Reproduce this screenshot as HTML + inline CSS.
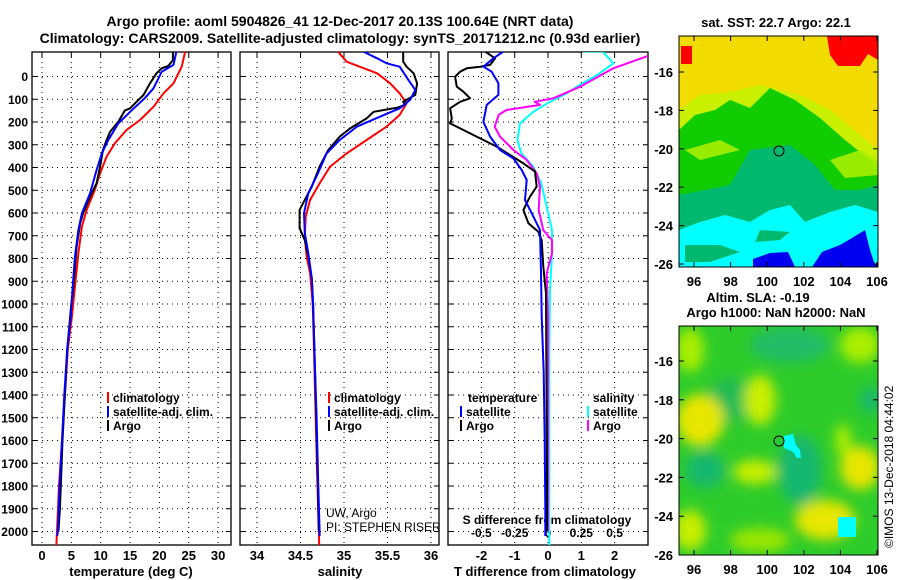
<!DOCTYPE html>
<html><head><meta charset="utf-8">
<style>
html,body{margin:0;padding:0;background:#fff;}
svg{display:block;font-family:"Liberation Sans",Arial,sans-serif;}
.b{font-weight:bold;}
</style></head>
<body>
<svg id="fig" width="900" height="580" viewBox="0 0 900 580" xmlns="http://www.w3.org/2000/svg">
<defs>
<filter id="blur1" x="-20%" y="-20%" width="140%" height="140%"><feGaussianBlur stdDeviation="6"/></filter>
<clipPath id="clipTop"><rect x="679" y="36" width="199" height="231"/></clipPath>
<clipPath id="clipBot"><rect x="679" y="326" width="199" height="229"/></clipPath>
<clipPath id="cp1"><rect x="32" y="52" width="199" height="493"/></clipPath>
<clipPath id="cp2"><rect x="240" y="52" width="199" height="493"/></clipPath>
<clipPath id="cp3"><rect x="448" y="52" width="200" height="493"/></clipPath>
</defs>
<text class="b" x="340" y="26" font-size="14" text-anchor="middle">Argo profile: aoml 5904826_41 12-Dec-2017 20.13S 100.64E (NRT data)</text>
<text class="b" x="340" y="43" font-size="14" text-anchor="middle">Climatology: CARS2009. Satellite-adjusted climatology: synTS_20171212.nc (0.93d earlier)</text>

<g clip-path="url(#clipTop)">
<rect x="679" y="36" width="199" height="231" fill="#f2dc00"/>
<polygon fill="#c8f000" points="679,110 700,95 730,92 760,85 800,95 830,110 860,135 878,150 878,200 679,200"/>
<polygon fill="#10cc00" points="679,130 695,115 715,110 730,100 750,108 770,88 795,100 820,118 845,140 860,152 878,165 878,210 679,210"/>
<polygon fill="#a8f000" points="685,150 720,140 740,150 700,160" opacity="0.9"/>
<polygon fill="#a8f000" points="830,160 860,150 878,160 878,175 845,178" opacity="0.9"/>
<polygon fill="#00b86e" points="679,195 705,190 730,185 750,150 790,145 815,165 835,190 860,190 878,185 878,235 679,235"/>
<polygon fill="#00ffff" points="679,230 700,222 725,215 750,222 770,210 790,205 805,222 830,212 855,205 878,212 878,267 679,267"/>
<polygon fill="#00b86e" points="685,245 720,245 740,252 710,262 685,262"/>
<polygon fill="#00b86e" points="760,230 790,232 780,240 755,242"/>
<polygon fill="#0000f0" points="812,267 822,252 840,245 852,238 865,230 870,250 874,262 878,267"/>
<polygon fill="#0000f0" points="753,259 770,253 788,252 795,267 753,267"/>
<polygon fill="#ff0000" points="827,36 878,36 878,60 868,54 860,66 838,66 830,55"/>
<rect x="681" y="46" width="11" height="18" fill="#ff0000"/>
</g>
<rect x="679" y="36" width="199" height="231" fill="none" stroke="#000" stroke-width="1"/>
<circle cx="779" cy="151" r="5" fill="none" stroke="#000" stroke-width="1"/>
<text class="b" x="776" y="27" font-size="13" text-anchor="middle">sat. SST: 22.7 Argo: 22.1</text>

<g clip-path="url(#clipBot)">
<rect x="679" y="326" width="199" height="229" fill="#2ecc2a"/>
<g filter="url(#blur1)">
<ellipse cx="790" cy="345" rx="40" ry="18" fill="#20bb66"/>
<ellipse cx="730" cy="400" rx="22" ry="22" fill="#22bb55"/>
<ellipse cx="700" cy="420" rx="24" ry="26" fill="#e6e600"/>
<ellipse cx="690" cy="350" rx="14" ry="22" fill="#aaee00"/>
<ellipse cx="760" cy="400" rx="16" ry="25" fill="#c8ee00"/>
<ellipse cx="800" cy="470" rx="22" ry="35" fill="#16b870"/>
<ellipse cx="705" cy="470" rx="20" ry="18" fill="#16b870"/>
<ellipse cx="755" cy="472" rx="22" ry="12" fill="#c8ee00"/>
<ellipse cx="860" cy="468" rx="20" ry="22" fill="#e6e600"/>
<ellipse cx="843" cy="440" rx="8" ry="16" fill="#aaee00"/>
<ellipse cx="825" cy="520" rx="30" ry="20" fill="#e6e600"/>
<ellipse cx="690" cy="530" rx="16" ry="20" fill="#c8ee00"/>
<ellipse cx="860" cy="345" rx="20" ry="18" fill="#aaee00"/>
<ellipse cx="870" cy="400" rx="10" ry="14" fill="#16b870"/>
<ellipse cx="760" cy="540" rx="30" ry="12" fill="#99e600"/>
</g>
<polygon fill="#00ffff" points="784,436 793,434 796,445 800,450 801,458 797,458 793,452 784,448"/>
<rect x="838" y="517" width="18" height="20" fill="#00ffff"/>
</g>
<rect x="679" y="326" width="199" height="229" fill="none" stroke="#000" stroke-width="1"/>
<circle cx="779" cy="441" r="5" fill="none" stroke="#000" stroke-width="1"/>
<text class="b" x="758" y="302" font-size="13" text-anchor="middle">Altim. SLA: -0.19</text>
<text class="b" x="776" y="317" font-size="13" text-anchor="middle">Argo h1000: NaN h2000: NaN</text>
<text x="893" y="548" font-size="12" transform="rotate(-90 893 548)">©IMOS 13-Dec-2018 04:44:02</text>

<text x="326" y="517" font-size="12">UW, Argo</text>
<text x="326" y="531" font-size="12">PI: STEPHEN RISER</text>

<g id="plots"></g>
</svg>
<script>
const depthTicks = [0,100,200,300,400,500,600,700,800,900,1000,1100,1200,1300,1400,1500,1600,1700,1800,1900,2000];
const tempTicks = [0,5,10,15,20,25,30];
const salTicks = [34,34.5,35,35.5,36];
const tdiffTicks = [-2,-1,0,1,2];
const sdiffTicks = [-0.5,-0.25,0,0.25,0.5];
const sdiffTickLabels = ["-0.5","-0.25","0","0.25","0.5"];

const tArgoDepth = [-110,-72,-46,-36,-14,30,81,111,140,150,199,243,279,323,396,469,528,601,644,748,938,1000,1200,1400,1600,1800,1900,2000];
const tArgo = [22.3,22.3,21.5,20.4,19.5,18.4,17.3,16.1,15.0,14.1,13.0,11.6,11.0,10.4,9.9,9.3,8.2,7.0,6.5,5.9,5.3,5.0,4.3,3.9,3.5,3.2,3.05,2.8];
const tSatDepth = [-110,-51,-21,52,96,155,206,279,337,411,513,601,674,792,938,1056,1200,1400,1600,1800,1900,2000,2020];
const tSat = [22.9,22.4,20.4,19.0,17.5,15.0,13.0,11.3,10.2,9.3,8.2,6.8,6.2,5.6,5.2,4.9,4.3,3.8,3.4,3.0,2.85,2.7,2.6];
const tClimDepth = [-110,-43,30,74,133,191,235,294,352,426,499,587,660,776,952,1056,1200,1400,1600,1800,2000,2060];
const tClim = [24.4,23.8,22.4,20.7,19.0,16.7,14.4,12.4,11.0,9.9,9.0,7.6,6.8,6.2,5.5,5.1,4.4,3.9,3.4,2.9,2.55,2.45];

const sArgoDepth = [-110,-65,-43,-14,30,81,111,125,137,155,184,228,264,323,396,484,557,587,667,719,792,887,1000,1200,1500,1800,2000];
const sArgo = [35.68,35.68,35.72,35.80,35.84,35.82,35.68,35.70,35.61,35.34,35.26,35.07,34.95,34.82,34.72,34.63,34.53,34.49,34.49,34.55,34.59,34.63,34.645,34.66,34.68,34.70,34.71];
const sSatDepth = [-110,-80,-58,-43,15,59,103,140,177,220,279,338,426,513,601,689,777,887,1000,1200,1500,1800,2000,2020];
const sSat = [35.22,35.38,35.49,35.64,35.74,35.82,35.76,35.64,35.41,35.15,34.95,34.80,34.70,34.59,34.54,34.55,34.59,34.63,34.645,34.66,34.685,34.705,34.72,34.72];
const sClimDepth = [-110,-65,-43,-14,30,74,118,169,220,279,338,396,470,543,616,704,792,865,1000,1200,1500,1800,2000,2060];
const sClim = [34.93,35.03,35.18,35.38,35.53,35.64,35.72,35.64,35.49,35.26,35.03,34.84,34.72,34.61,34.56,34.55,34.57,34.61,34.64,34.655,34.675,34.695,34.71,34.715];

const dTArgoDepth = [-110,-80,-51,-43,-36,-21,1,45,67,96,111,140,184,206,235,272,308,345,382,418,484,528,587,645,682,719,836,953,1200,1500,1800,2000];
const dTArgo = [-1.89,-1.59,-1.74,-2.04,-2.44,-2.64,-2.79,-2.74,-2.54,-2.34,-2.64,-2.94,-2.89,-2.94,-2.54,-2.04,-1.54,-1.14,-0.74,-0.39,-0.34,-0.54,-0.74,-0.59,-0.29,-0.19,-0.14,-0.06,-0.05,-0.04,-0.03,-0.03];
const dTSatDepth = [-110,-80,-43,-21,30,81,125,199,264,323,360,411,455,543,601,675,865,1056,1300,1600,1900,2020];
const dTSat = [-1.34,-1.64,-1.94,-1.69,-1.49,-1.49,-1.84,-1.94,-1.74,-1.44,-1.04,-0.79,-0.64,-0.69,-0.49,-0.24,-0.21,-0.19,-0.13,-0.1,-0.08,-0.08];
const dSArgoDepth = [-90,-36,45,96,111,125,147,169,220,264,323,367,426,484,587,675,719,777,865,1056,1400,1800,2000];
const dSArgo = [0.75,0.49,0.24,0.04,-0.10,-0.06,-0.31,-0.37,-0.40,-0.36,-0.26,-0.16,-0.085,-0.06,-0.07,-0.035,0.03,0.03,-0.01,0.0,0.0,0.0,0.0];
const dSSatDepth = [-110,-110,-58,-7,37,74,111,155,206,279,338,396,470,572,675,777,938,1200,1600,2060];
const dSSat = [0.26,0.41,0.49,0.37,0.24,0.14,0.015,-0.11,-0.21,-0.23,-0.20,-0.11,-0.05,-0.01,0.03,0.03,0.015,0.01,0.01,0.01];

const sstLatTicks = [-16,-18,-20,-22,-24,-26];
const lonTicks = [96,98,100,102,104,106];

const yD = d => 76.5 + d * 0.2275;
const xT = t => 42 + t * 5.87;
const xS = s => 257 + (s - 34) * 87;
const xDT = t => 548 + t * 33.3;
const xDS = s => 548 + s * 133.2;
const xLon = l => 694 + (l - 96) * 18.3;
const yLatTop = l => 72 + (-16 - l) * 19.2;
const yLatBot = l => 361 + (-16 - l) * 19.4;

const NS = "http://www.w3.org/2000/svg";
const root = document.getElementById('plots');
function mk(tag, attrs, parent) {
  const e = document.createElementNS(NS, tag);
  for (const k in attrs) e.setAttribute(k, attrs[k]);
  (parent || root).appendChild(e);
  return e;
}
function txt(x, y, s, size, anchor, bold) {
  const t = mk('text', {x: x, y: y, 'font-size': size, 'text-anchor': anchor || 'start'});
  if (bold) t.setAttribute('font-weight', 'bold');
  t.textContent = s;
  return t;
}

const panels = [
  {x0: 32, x1: 231, clip: 'cp1', ticks: tempTicks, fx: xT, label: 'temperature (deg C)', name: 'temperature', lx: 131},
  {x0: 240, x1: 439, clip: 'cp2', ticks: salTicks, fx: xS, label: 'salinity', name: 'salinity', lx: 340},
  {x0: 448, x1: 648, clip: 'cp3', ticks: tdiffTicks, fx: xDT, label: 'T difference from climatology', name: 'difference', lx: 545}
];
const Y0 = 52, Y1 = 545;

panels.forEach((p, pi) => {
  depthTicks.forEach(d => {
    const g = mk('line', {x1: p.x0, x2: p.x1, y1: yD(d), y2: yD(d), stroke: '#000', 'stroke-width': 1, 'stroke-dasharray': '1,4'});
    
    
    const tl = mk('line', {x1: p.x0, x2: p.x0 + 5, y1: yD(d), y2: yD(d), stroke: '#000'});
    
    
    const tr = mk('line', {x1: p.x1 - 5, x2: p.x1, y1: yD(d), y2: yD(d), stroke: '#000'});
    
    
  });
  p.ticks.forEach(v => {
    const x = p.fx(v);
    const g = mk('line', {x1: x, x2: x, y1: Y0, y2: Y1, stroke: '#000', 'stroke-width': 1, 'stroke-dasharray': '1,4'});
    
    
    const t1 = mk('line', {x1: x, x2: x, y1: Y0, y2: Y0 + 5, stroke: '#000'});
    
    
    const lab = txt(x, 560, String(v), 13, 'middle', true);
    
    
  });
  const xt = txt(p.lx, 576, p.label, 13, 'middle', true);
  
  
  const fr = mk('rect', {x: p.x0, y: Y0, width: p.x1 - p.x0, height: Y1 - Y0, fill: 'none', stroke: '#000', 'stroke-width': 1.3});
  
  
});
depthTicks.forEach(d => {
  const l = txt(28, yD(d) + 4.5, String(d), 12, 'end', true);
  
  
});
sdiffTicks.forEach((v, i) => {
  const l = txt(xDS(v), 537, sdiffTickLabels[i], 12, 'middle', true);
  
  
});
const sdt = txt(547, 524, 'S difference from climatology', 12, 'middle', true);



function series(depths, vals, fx, color, clip, name) {
  let d = '';
  for (let i = 0; i < depths.length; i++) d += (i ? 'L' : 'M') + fx(vals[i]).toFixed(1) + ',' + yD(depths[i]).toFixed(1);
  const p = mk('path', {d: d, fill: 'none', stroke: color, 'stroke-width': 2, 'clip-path': 'url(#' + clip + ')', 'stroke-linejoin': 'round'});
  
  
}
series(tClimDepth, tClim, xT, '#ff0000', 'cp1', 'temperature-climatology-line');
series(tArgoDepth, tArgo, xT, '#000000', 'cp1', 'temperature-argo-line');
series(tSatDepth, tSat, xT, '#0000ff', 'cp1', 'temperature-satellite-line');
series(sClimDepth, sClim, xS, '#ff0000', 'cp2', 'salinity-climatology-line');
series(sArgoDepth, sArgo, xS, '#000000', 'cp2', 'salinity-argo-line');
series(sSatDepth, sSat, xS, '#0000ff', 'cp2', 'salinity-satellite-line');
series(dSSatDepth, dSSat, xDS, '#00ffff', 'cp3', 's-diff-satellite-line');
series(dSArgoDepth, dSArgo, xDS, '#ff00ff', 'cp3', 's-diff-argo-line');
series(dTArgoDepth, dTArgo, xDT, '#000000', 'cp3', 't-diff-argo-line');
series(dTSatDepth, dTSat, xDT, '#0000ff', 'cp3', 't-diff-satellite-line');

function legend(x, y, color, label, name) {
  const m = mk('line', {x1: x, x2: x, y1: y - 10, y2: y + 1, stroke: color, 'stroke-width': 2});
  
  
  const t = txt(x + 5, y, label, 12, 'start', true);
  
  
}
legend(108, 402, '#ff0000', 'climatology', 'legend-entry-climatology');
legend(108, 416, '#0000ff', 'satellite-adj. clim.', 'legend-entry-satellite');
legend(108, 430, '#000000', 'Argo', 'legend-entry-argo');
legend(329, 402, '#ff0000', 'climatology', 'legend-entry-climatology');
legend(329, 416, '#0000ff', 'satellite-adj. clim.', 'legend-entry-satellite');
legend(329, 430, '#000000', 'Argo', 'legend-entry-argo');
const lt1 = txt(468, 402, 'temperature', 12, 'start', true);


legend(461, 416, '#0000ff', 'satellite', 'legend-entry-t-satellite');
legend(461, 430, '#000000', 'Argo', 'legend-entry-t-argo');
const lt2 = txt(593, 402, 'salinity', 12, 'start', true);


legend(588, 416, '#00ffff', 'satellite', 'legend-entry-s-satellite');
legend(588, 430, '#ff00ff', 'Argo', 'legend-entry-s-argo');

sstLatTicks.forEach(l => {
  const a = txt(673, yLatTop(l) + 5, String(l), 13, 'end', true);
  
  
  const b = txt(673, yLatBot(l) + 5, String(l), 13, 'end', true);
  
  
  [yLatTop(l), yLatBot(l)].forEach(y => {
    const t1 = mk('line', {x1: 679, x2: 684, y1: y, y2: y, stroke: '#000'});
    
    
    const t2 = mk('line', {x1: 873, x2: 878, y1: y, y2: y, stroke: '#000'});
    
    
  });
});
lonTicks.forEach(l => {
  const a = txt(xLon(l), 286, String(l), 13, 'middle', true);
  
  
  const b = txt(xLon(l), 574, String(l), 13, 'middle', true);
  
  
  [[36, 41], [262, 267], [326, 331], [550, 555]].forEach(yy => {
    const t = mk('line', {x1: xLon(l), x2: xLon(l), y1: yy[0], y2: yy[1], stroke: '#000'});
    
    
  });
});
</script>
</body></html>
